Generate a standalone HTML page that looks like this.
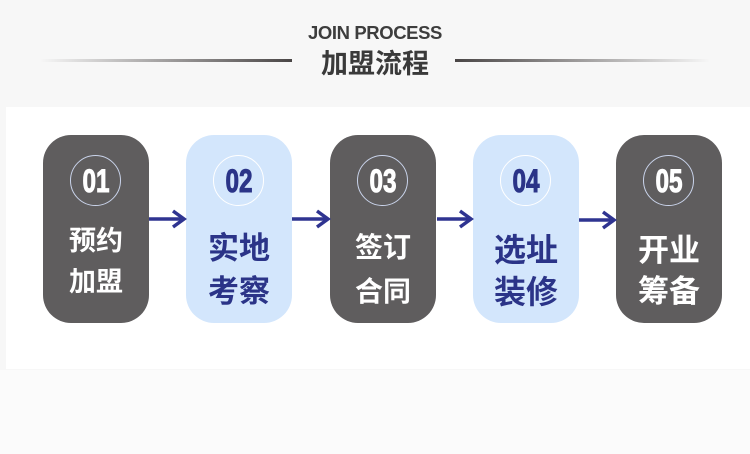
<!DOCTYPE html>
<html><head><meta charset="utf-8"><style>
html,body{margin:0;padding:0;}
body{width:750px;height:454px;position:relative;overflow:hidden;background:#f7f7f7;font-family:"Liberation Sans","Noto Sans CJK SC",sans-serif;}
.abs{position:absolute;}
.panel{left:6px;top:107px;width:744px;height:262px;background:#fff;}
.bottom{left:0;top:370px;width:750px;height:84px;background:#fbfbfb;}
.t1{left:0;width:750px;top:23px;text-align:center;font-size:18.5px;font-weight:bold;color:#3d3d3d;line-height:20px;letter-spacing:-0.4px;}
.t2{left:0;width:750px;top:47px;text-align:center;font-size:27px;font-weight:bold;color:#3a3a3a;line-height:30px;font-family:"Noto Sans CJK SC",sans-serif;}
.ll{left:40px;top:59px;width:252px;height:3px;background:linear-gradient(to right,rgba(80,80,80,0),#4a4646);}
.rl{left:455px;top:59px;width:255px;height:3px;background:linear-gradient(to left,rgba(80,80,80,0),#4a4646);}
.box{top:135px;width:106px;height:188px;border-radius:28px;}
.dark{background:#5f5d5e;color:#fff;}
.light{background:#d3e6fc;color:#2b3488;}
.circ{left:27px;top:20px;width:51px;height:51px;border-radius:50%;border:1px solid #c9d3ea;box-sizing:border-box;}
.light .circ{border-color:#fff;}
.num{left:0;width:106px;top:29px;text-align:center;font-size:32px;line-height:34px;font-weight:bold;transform:scaleX(0.76);-webkit-text-stroke:1px currentColor;}
.ln{left:0;width:106px;text-align:center;font-family:"Noto Sans CJK SC",sans-serif;font-weight:bold;}
</style></head><body>
<div class="abs panel"></div>
<div class="abs bottom"></div>
<div class="abs t1">JOIN PROCESS</div>
<div class="abs t2">加盟流程</div>
<div class="abs ll"></div>
<div class="abs rl"></div>

<div class="abs box dark" style="left:43px;">
  <div class="abs circ"></div>
  <div class="abs num">01</div>
  <div class="abs ln" style="top:90px;font-size:27px;line-height:27px;">预约</div>
  <div class="abs ln" style="top:131px;font-size:27px;line-height:27px;">加盟</div>
</div>
<div class="abs box light" style="left:186px;">
  <div class="abs circ"></div>
  <div class="abs num">02</div>
  <div class="abs ln" style="top:95px;font-size:31px;line-height:31px;">实地</div>
  <div class="abs ln" style="top:138px;font-size:31px;line-height:31px;">考察</div>
</div>
<div class="abs box dark" style="left:330px;">
  <div class="abs circ"></div>
  <div class="abs num">03</div>
  <div class="abs ln" style="top:97px;font-size:28px;line-height:28px;">签订</div>
  <div class="abs ln" style="top:141px;font-size:28px;line-height:28px;">合同</div>
</div>
<div class="abs box light" style="left:473px;">
  <div class="abs circ"></div>
  <div class="abs num">04</div>
  <div class="abs ln" style="top:97px;font-size:32px;line-height:32px;">选址</div>
  <div class="abs ln" style="top:139px;font-size:32px;line-height:32px;">装修</div>
</div>
<div class="abs box dark" style="left:616px;">
  <div class="abs circ"></div>
  <div class="abs num">05</div>
  <div class="abs ln" style="top:97px;font-size:31px;line-height:31px;">开业</div>
  <div class="abs ln" style="top:138px;font-size:31px;line-height:31px;">筹备</div>
</div>

<svg class="abs" style="left:0;top:0;" width="750" height="454">
  <g stroke="#2f3491" stroke-width="3.5" fill="none">
    <line x1="149" y1="219" x2="184" y2="219"/>
    <polyline points="173,211 184,219 173,227"/>
    <line x1="292" y1="219" x2="328" y2="219"/>
    <polyline points="317,211 328,219 317,227"/>
    <line x1="437" y1="219" x2="471" y2="219"/>
    <polyline points="460,211 471,219 460,227"/>
    <line x1="579" y1="220" x2="614" y2="220"/>
    <polyline points="603,212 614,220 603,228"/>
  </g>
</svg>
</body></html>
